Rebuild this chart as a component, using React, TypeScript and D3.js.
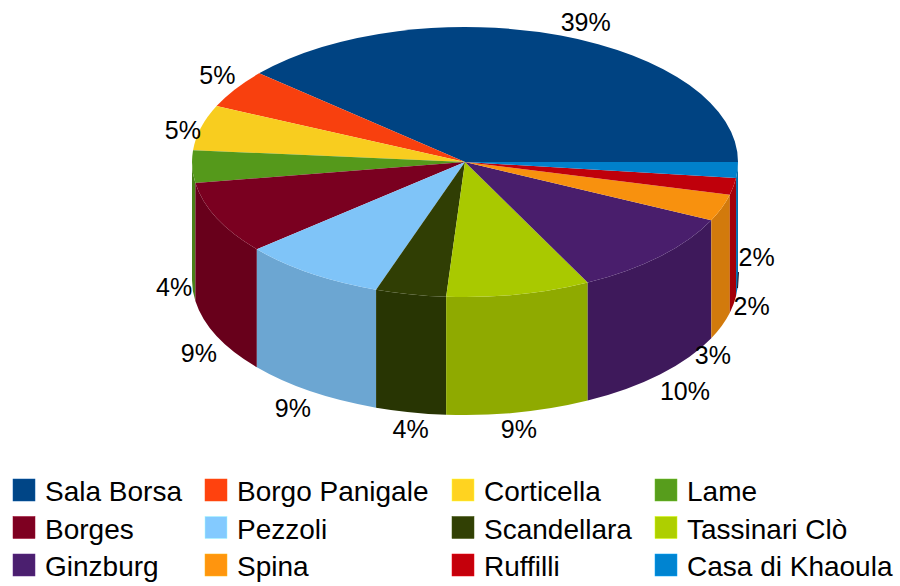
import React from "react";
import * as d3 from "d3";

const width = 900;
const height = 586;
const font = "'Liberation Sans', Arial, sans-serif";

// pie geometry
const cx = 465;
const cy = 162;
const rx = 273;
const ry = 135;
const depth = 118;

// legend order, which is also the slice order going counter-clockwise from east
const categories = [
  "Sala Borsa",
  "Borgo Panigale",
  "Corticella",
  "Lame",
  "Borges",
  "Pezzoli",
  "Scandellara",
  "Tassinari Clò",
  "Ginzburg",
  "Spina",
  "Ruffilli",
  "Casa di Khaoula"
];
const shares = [38.6, 4.6, 5.4, 3.9, 8.7, 8.52, 4.18, 8.52, 10.48, 3.2, 2.0, 1.9];
const colors = [
  "#004586",
  "#ff420e",
  "#ffd320",
  "#579d1c",
  "#7e0021",
  "#83caff",
  "#314004",
  "#aecf00",
  "#4b1f6f",
  "#ff950e",
  "#c5000b",
  "#0084d1"
];

// the two labels the original moved to avoid collisions
const labelNudge: Record<string, [number, number]> = {
  Spina: [-27, 12],
  "Casa di Khaoula": [1, -33]
};
// moved label that keeps a short leader line back to its slice
const leaderFor = "Casa di Khaoula";

const legendColumns = [13, 205, 452, 655];
const legendRows = [479, 516.5, 554];

const pie = d3
  .pie<number>()
  .sort(null)
  .startAngle(Math.PI / 2)
  .endAngle(Math.PI / 2 - 2 * Math.PI);

const topArc = d3.arc<d3.PieArcDatum<number>>().innerRadius(0).outerRadius(rx);

const pctFormat = d3.format(".0f");

const px = (a: number) => cx + rx * Math.sin(a);
const py = (a: number) => cy - ry * Math.cos(a);

// outer wall of a slice, only the part on the front half of the ellipse
function wallPath(d: d3.PieArcDatum<number>) {
  const lo = Math.max(d.endAngle + 2 * Math.PI, Math.PI / 2);
  const hi = Math.min(d.startAngle + 2 * Math.PI, (3 * Math.PI) / 2);
  if (lo >= hi) return null;
  return (
    `M${px(lo)},${py(lo)}` +
    `A${rx},${ry} 0 0 1 ${px(hi)},${py(hi)}` +
    `L${px(hi)},${py(hi) + depth}` +
    `A${rx},${ry} 0 0 0 ${px(lo)},${py(lo) + depth}Z`
  );
}

function labelProps(d: d3.PieArcDatum<number>, name: string) {
  const mid = (d.startAngle + d.endAngle) / 2;
  const cos = Math.sin(mid); // horizontal part
  const sin = -Math.cos(mid); // vertical part, down is positive
  const front = mid + 2 * Math.PI < (3 * Math.PI) / 2;
  const [nx, ny] = labelNudge[name] || [0, 0];
  const anchor = Math.abs(cos) < 0.25 ? "middle" : cos > 0 ? "start" : "end";
  const dy = Math.abs(sin) < 0.3 ? 11 : sin > 0 ? 26 : -4.5;
  return {
    x: px(mid) + nx,
    y: py(mid) + (front ? depth : 0) + dy + ny,
    textAnchor: anchor
  };
}

export default function App() {
  const slices = pie(shares);
  const leader = slices[categories.indexOf(leaderFor)];
  const leaderMid = (leader.startAngle + leader.endAngle) / 2;
  const leaderLabel = labelProps(leader, leaderFor);
  return (
    <svg
      width={width}
      height={height}
      style={{ position: "absolute", left: 0, top: 0, background: "#fff" }}
    >
      <g>
        {slices.map((d, i) => {
          const p = wallPath(d);
          return p ? (
            <path key={i} d={p} fill={d3.rgb(colors[i]).darker(0.55).formatHex()} />
          ) : null;
        })}
      </g>
      <g transform={`translate(${cx},${cy}) scale(1,${ry / rx})`}>
        {slices.map((d, i) => (
          <path
            key={i}
            d={topArc(d) as string}
            fill={d3.rgb(colors[i]).darker(0.08).formatHex()}
          />
        ))}
      </g>
      <line
        x1={px(leaderMid)}
        y1={py(leaderMid) + depth}
        x2={leaderLabel.x}
        y2={leaderLabel.y + 6}
        stroke="#1a1a2a"
        strokeWidth={1}
      />
      <g fontFamily={font} fontSize={25} fill="#000">
        {slices.map((d, i) => (
          <text key={i} {...labelProps(d, categories[i])}>
            {pctFormat(shares[i])}%
          </text>
        ))}
      </g>
      <g fontFamily={font} fontSize={28} fill="#000">
        {categories.map((name, i) => {
          const x = legendColumns[i % 4];
          const y = legendRows[Math.floor(i / 4)];
          return (
            <g key={name}>
              <rect
                x={x}
                y={y}
                width={22}
                height={22}
                fill={colors[i]}
                stroke={d3.rgb(colors[i]).brighter(0.6).formatHex()}
                strokeWidth={0.5}
              />
              <text x={x + 32} y={y + 22}>
                {name}
              </text>
            </g>
          );
        })}
      </g>
    </svg>
  );
}
